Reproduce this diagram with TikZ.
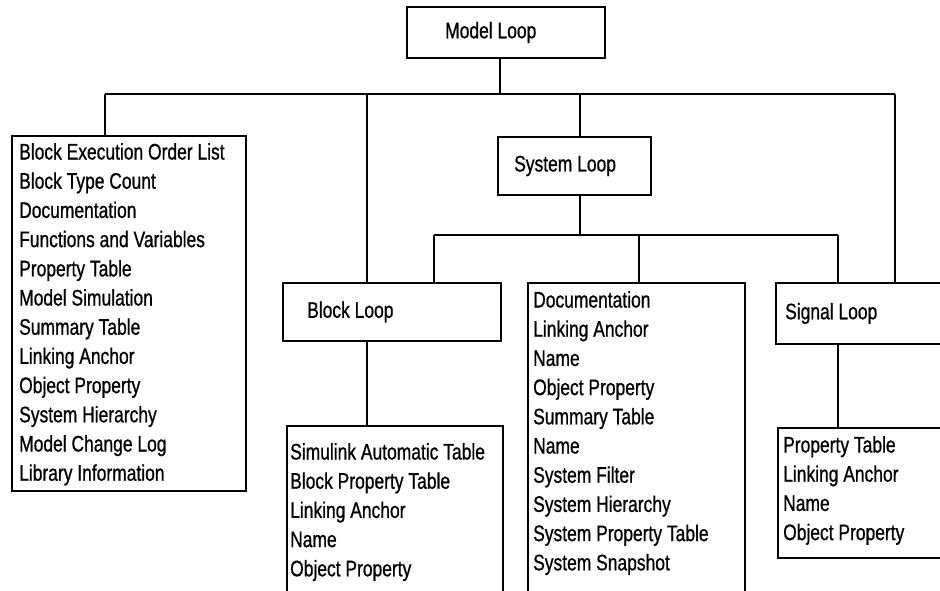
\documentclass[tikz,border=0pt]{standalone}
\usepackage{fontspec}
\setmainfont{Liberation Sans}[FakeStretch=0.775,FakeBold=0.8]
\usetikzlibrary{positioning}
\newcommand\itemfont{\fontsize{22.5}{29.2}\selectfont}

\begin{document}
\begin{tikzpicture}[x=1pt,y=-1pt,
  frame/.style={draw,line width=1.9pt,inner sep=0pt,anchor=north west},
  title/.style={font=\itemfont,inner sep=0pt},
  items/.style={font=\itemfont,align=left,inner sep=0pt},
  link/.style={line width=1.9pt}]
  \useasboundingbox (0,0) rectangle (940,591);
  \clip (0,0) rectangle (940,591);
  % loop boxes
  \node[frame,minimum width=198,minimum height=51] (model) at (406,6) {};
  \node[frame,minimum width=153,minimum height=58] (system) at (497,136) {};
  \node[frame,minimum width=218,minimum height=58] (block) at (282,282) {};
  \node[frame,minimum width=200,minimum height=61] (signal) at (775,282) {};
  \node[title,right=39pt of model.west] (modeltxt) {Model Loop};
  \node[title,right=17pt of system.west] (systemtxt) {System Loop};
  \node[title,right=25pt of block.west] (blocktxt) {Block Loop};
  \node[title,right=10pt of signal.west] (signaltxt) {Signal Loop};
  % content boxes (the open ones run off the page)
  \node[frame,minimum width=234,minimum height=355] (order) at (11,135) {};
  \node[frame,minimum width=216,minimum height=200] (blist) at (286,425) {};
  \node[frame,minimum width=217,minimum height=330] (syslist) at (527,282) {};
  \node[frame,minimum width=200,minimum height=130] (slist) at (777,427) {};
  \node[items,below right=8pt and 8pt of order.north west] (ordertxt)
    {Block Execution Order List\\Block Type Count\\Documentation\\
     Functions and Variables\\Property Table\\Model Simulation\\
     Summary Table\\Linking Anchor\\Object Property\\System Hierarchy\\
     Model Change Log\\Library Information};
  \node[items,below right=18pt and 4pt of blist.north west] (blisttxt)
    {Simulink Automatic Table\\Block Property Table\\Linking Anchor\\
     Name\\Object Property};
  \node[items,below right=9pt and 6pt of syslist.north west] (syslisttxt)
    {Documentation\\Linking Anchor\\Name\\Object Property\\Summary Table\\
     Name\\System Filter\\System Hierarchy\\System Property Table\\
     System Snapshot};
  \node[items,below right=9pt and 6pt of slist.north west] (slisttxt)
    {Property Table\\Linking Anchor\\Name\\Object Property};
  % model level bus
  \coordinate (m0) at (500,94);
  \coordinate (m1) at (105,94);
  \coordinate (m2) at (367,94);
  \coordinate (m3) at (580,94);
  \coordinate (m4) at (895,94);
  \draw[link] (m1) -- (m4);
  \draw[link] (m0 |- model.south) -- (m0);
  \draw[link] (m1) -- (m1 |- order.north);
  \draw[link] (m2) -- (m2 |- block.north);
  \draw[link] (m3) -- (m3 |- system.north);
  \draw[link] (m4) -- (m4 |- signal.north);
  % system level bus
  \coordinate (s1) at (434,235);
  \coordinate (s2) at (639,235);
  \coordinate (s3) at (838,235);
  \draw[link] (s1) -- (s3);
  \draw[link] (m3 |- system.south) -- (m3 |- s1);
  \draw[link] (s1) -- (s1 |- block.north);
  \draw[link] (s2) -- (s2 |- syslist.north);
  \draw[link] (s3) -- (s3 |- signal.north);
  % down to the lists
  \draw[link] (m2 |- block.south) -- (m2 |- blist.north);
  \draw[link] (s3 |- signal.south) -- (s3 |- slist.north);
\end{tikzpicture}
\end{document}
